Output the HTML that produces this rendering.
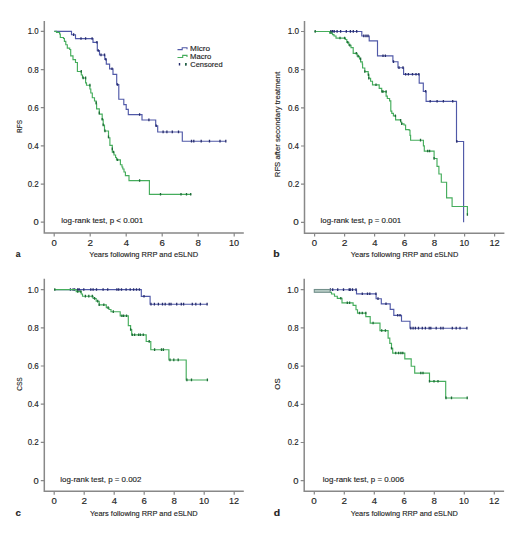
<!DOCTYPE html><html><head><meta charset="utf-8"><style>html,body{margin:0;padding:0;background:#fff;}svg{display:block;}text{font-family:"Liberation Sans",sans-serif;fill:#1e1e1e;}</style></head><body>
<svg width="520" height="539" viewBox="0 0 520 539">
<rect width="520" height="539" fill="#fff"/>
<path d="M44.3,21 V233.1 H243.8" fill="none" stroke="#888888" stroke-width="1.5"/>
<path d="M40.8,222.2 H44.4 M40.8,184.04 H44.4 M40.8,145.88 H44.4 M40.8,107.72 H44.4 M40.8,69.56 H44.4 M40.8,31.4 H44.4 M54.2,233.1 V236.5 M90.2,233.1 V236.5 M126.2,233.1 V236.5 M162.2,233.1 V236.5 M198.2,233.1 V236.5 M234.2,233.1 V236.5 " fill="none" stroke="#888888" stroke-width="1.2"/>
<path d="M54.3,31.4 H71.5 V34.7 H75.5 V38.6 H93 V42.3 H97.3 V50.6 H99.5 V55 H104.8 V59.3 H106.3 V64.1 H109.6 V68.9 H113 V74.4 H116.7 V84.6 H118.8 V99.2 H123.8 V104.6 H126.2 V109.3 H128.3 V114.6 H142 V120 H155.7 V125.8 H157.7 V132 H182.3 V141.2 H225.8" fill="none" stroke="#5059a8" stroke-width="1.15"/>
<path d="M73.6,33.3 v2.6 M81,37.2 v2.6 M85.6,37.2 v2.6 M92.1,37.2 v2.6 M96.9,40.9 v2.6 M98.3,49.2 v2.6 M101,53.6 v2.6 M104.5,53.6 v2.6 M105.8,57.9 v2.6 M112,67.5 v2.6 M117.5,83.2 v2.6 M139.6,113.2 v2.6 M148.9,118.6 v2.6 M156.2,124.4 v2.6 M163.1,130.6 v2.6 M166.9,130.6 v2.6 M172.3,130.6 v2.6 M178.5,130.6 v2.6 M191.5,139.8 v2.6 M193.8,139.8 v2.6 M201.2,139.8 v2.6 M209.5,139.8 v2.6 M220,139.8 v2.6 M225.8,139.8 v2.6 " fill="none" stroke="#262c6c" stroke-width="1.3"/>
<path d="M54.3,31.4 H56.5 V32.4 H59.6 V34 H60.3 V37.5 H63.5 V38.5 H64.4 V41.3 H65.8 V44.7 H67.3 V48.1 H69.7 V49.5 H70.7 V55.8 H73 V59.6 H75.5 V62.5 H77.4 V71.5 H81.3 V75 H82.5 V78 H85.6 V82.8 H86.5 V85.2 H89.9 V89 H90.8 V93 H92.3 V97.7 H94.5 V101 H96.2 V104 H96.6 V108.8 H99.3 V114.1 H102.2 V119.4 H103.2 V125 H104.5 V131 H108.5 V137.7 H109.9 V145.4 H112.3 V152.1 H114 V155 H115.6 V157.5 H116.5 V159.9 H120.4 V164.7 H122 V167 H122.8 V169 H124 V172 H125.4 V175.6 H129 V180.6 H149.4 V194.4 H191.3" fill="none" stroke="#45ad5c" stroke-width="1.15"/>
<path d="M81.25,70.1 v2.6 M83.2,76.6 v2.6 M85.6,76.6 v2.6 M89.9,83.8 v2.6 M96.2,101.6 v2.6 M99.3,111.6 v2.6 M102.2,118 v2.6 M103.2,123.6 v2.6 M105,129.6 v2.6 M108.5,135.6 v2.6 M112.3,147.6 v2.6 M113.5,150.7 v2.6 M117.5,158.5 v2.6 M139.6,179.2 v2.6 M160.5,193 v2.6 M181,193 v2.6 M186.5,193 v2.6 M190.7,193 v2.6 " fill="none" stroke="#1e6b38" stroke-width="1.3"/>
<path d="M304.5,21 V233.2 H504.4" fill="none" stroke="#888888" stroke-width="1.5"/>
<path d="M301,222.3 H304.6 M301,184.14 H304.6 M301,145.98 H304.6 M301,107.82 H304.6 M301,69.66 H304.6 M301,31.5 H304.6 M314.6,233.2 V236.6 M344.6,233.2 V236.6 M374.6,233.2 V236.6 M404.6,233.2 V236.6 M434.6,233.2 V236.6 M464.6,233.2 V236.6 M494.6,233.2 V236.6 " fill="none" stroke="#888888" stroke-width="1.2"/>
<path d="M314.6,31.5 H361.8 V36 H369.2 V40.9 H377.5 V55.9 H392.9 V61.7 H398 V67.7 H403.6 V74.4 H419.2 V83.1 H423.3 V91.4 H426.1 V101.3 H456.5 V141.5 H463.6 V222.2" fill="none" stroke="#5059a8" stroke-width="1.15"/>
<path d="M330.8,30.1 v2.6 M332.5,30.1 v2.6 M334.2,30.1 v2.6 M337.1,30.1 v2.6 M340.6,30.1 v2.6 M346.3,30.1 v2.6 M350.4,30.1 v2.6 M353.3,30.1 v2.6 M356.7,30.1 v2.6 M363.8,34.6 v2.6 M366,34.6 v2.6 M368,34.6 v2.6 M383,54.5 v2.6 M385.4,54.5 v2.6 M393.5,60.3 v2.6 M399,66.3 v2.6 M403,66.3 v2.6 M405.6,73 v2.6 M408.4,73 v2.6 M412.5,73 v2.6 M416,73 v2.6 M418.8,73 v2.6 M425.6,90 v2.6 M430.2,99.9 v2.6 M437.1,99.9 v2.6 M443.4,99.9 v2.6 M452.7,99.9 v2.6 M456.8,140.1 v2.6 " fill="none" stroke="#262c6c" stroke-width="1.3"/>
<path d="M314.6,31.5 H329.6 V33.1 H332.5 V34.6 H334 V36 H336 V38.1 H345.5 V39.5 H346.8 V42.4 H348.8 V45.2 H351 V47.6 H353.2 V53.4 H357.2 V56.2 H359.5 V59 H360.6 V61.8 H362.3 V64 H362.6 V68 H364.8 V71.6 H368.2 V74.8 H368.8 V78.2 H370.6 V81.2 H372.5 V84.9 H379.2 V88.3 H381.7 V91.6 H386.1 V96.1 H387.3 V98.5 H389.6 V100.8 H390.8 V111.1 H391.8 V113.4 H393.4 V115.8 H395.6 V119.8 H400.6 V122 H401.7 V123.8 H404 V125 H405.6 V129.6 H409.2 V130.2 H410 V135.4 H410.6 V140.2 H423.4 V145.8 H424.3 V151.1 H434.1 V158.5 H437 V166.3 H438.9 V174 H441.3 V182.2 H446.6 V197.8 H452.1 V206.5 H467.4 V214.6" fill="none" stroke="#45ad5c" stroke-width="1.15"/>
<path d="M315.2,30.1 v2.6 M331,31.1 v2.6 M340,36.7 v2.6 M344.6,36.7 v2.6 M347.7,41 v2.6 M349.8,43.8 v2.6 M356.3,52 v2.6 M358.2,54.8 v2.6 M360.6,57.6 v2.6 M364.8,70.2 v2.6 M368.5,73.4 v2.6 M368.8,76.8 v2.6 M376,83.5 v2.6 M383,90.2 v2.6 M382.1,90.2 v2.6 M386.1,90.2 v2.6 M395.4,114.4 v2.6 M400.6,119 v2.6 M401.7,122.4 v2.6 M420.5,138.8 v2.6 M427.7,149.7 v2.6 M429.6,149.7 v2.6 M434.1,157.1 v2.6 M467.4,213.2 v2.6 " fill="none" stroke="#1e6b38" stroke-width="1.3"/>
<path d="M44.3,278.8 V491.3 H243.8" fill="none" stroke="#888888" stroke-width="1.5"/>
<path d="M40.8,480.6 H44.4 M40.8,442.4 H44.4 M40.8,404.2 H44.4 M40.8,366 H44.4 M40.8,327.8 H44.4 M40.8,289.6 H44.4 M54.2,491.3 V494.7 M84.2,491.3 V494.7 M114.2,491.3 V494.7 M144.2,491.3 V494.7 M174.2,491.3 V494.7 M204.2,491.3 V494.7 M234.2,491.3 V494.7 " fill="none" stroke="#888888" stroke-width="1.2"/>
<path d="M54.2,289.6 H141.3 V296.4 H150.1 V304.2 H207.4" fill="none" stroke="#5059a8" stroke-width="1.15"/>
<path d="M70.4,288.2 v2.6 M73.1,288.2 v2.6 M74.6,288.2 v2.6 M77.7,288.2 v2.6 M79.2,288.2 v2.6 M83.8,288.2 v2.6 M90.8,288.2 v2.6 M93.1,288.2 v2.6 M96.5,288.2 v2.6 M103.1,288.2 v2.6 M107.7,288.2 v2.6 M116.9,288.2 v2.6 M118.7,288.2 v2.6 M121.5,288.2 v2.6 M126.1,288.2 v2.6 M130.2,288.2 v2.6 M133.6,288.2 v2.6 M136.5,288.2 v2.6 M139.4,288.2 v2.6 M144,295 v2.6 M151,302.8 v2.6 M154.4,302.8 v2.6 M158.4,302.8 v2.6 M162.5,302.8 v2.6 M165.2,302.8 v2.6 M169.2,302.8 v2.6 M171,302.8 v2.6 M176.7,302.8 v2.6 M181.3,302.8 v2.6 M183.6,302.8 v2.6 M192.3,302.8 v2.6 M195.8,302.8 v2.6 M200.4,302.8 v2.6 M207.1,302.8 v2.6 " fill="none" stroke="#262c6c" stroke-width="1.3"/>
<path d="M54.2,289.6 H76.2 V291.6 H81.2 V294 H82.5 V296.2 H93.1 V298.5 H96.2 V301.2 H99.2 V304.8 H106.3 V307.7 H109 V309.5 H111 V311.7 H120.2 V315.8 H128.3 V325.6 H130.6 V329.6 H131.7 V334.9 H146.2 V341.5 H150.8 V349.7 H168.9 V360 H186.2 V380 H207.4" fill="none" stroke="#45ad5c" stroke-width="1.15"/>
<path d="M54.8,288.2 v2.6 M77.7,290.2 v2.6 M80.8,290.2 v2.6 M85.4,294.8 v2.6 M88.8,294.8 v2.6 M92.3,294.8 v2.6 M94.6,297.1 v2.6 M97.7,299.8 v2.6 M99.2,303.4 v2.6 M103.8,303.4 v2.6 M108.1,306.3 v2.6 M113.3,310.3 v2.6 M121.9,314.4 v2.6 M123.6,314.4 v2.6 M126.5,314.4 v2.6 M130.6,328.2 v2.6 M132.3,333.5 v2.6 M134.6,333.5 v2.6 M138.6,333.5 v2.6 M140.4,333.5 v2.6 M143.3,333.5 v2.6 M149.2,340.1 v2.6 M154.6,348.3 v2.6 M161.5,348.3 v2.6 M163.4,348.3 v2.6 M170,358.6 v2.6 M173.8,358.6 v2.6 M178.2,358.6 v2.6 M186.9,378.6 v2.6 M191.5,378.6 v2.6 M207.4,378.6 v2.6 " fill="none" stroke="#1e6b38" stroke-width="1.3"/>
<path d="M304.2,278.8 V491.2 H504.1" fill="none" stroke="#888888" stroke-width="1.5"/>
<path d="M300.7,480.7 H304.3 M300.7,442.5 H304.3 M300.7,404.3 H304.3 M300.7,366.1 H304.3 M300.7,327.9 H304.3 M300.7,289.7 H304.3 M314.3,491.2 V494.6 M344.3,491.2 V494.6 M374.3,491.2 V494.6 M404.3,491.2 V494.6 M434.3,491.2 V494.6 M464.3,491.2 V494.6 M494.3,491.2 V494.6 " fill="none" stroke="#888888" stroke-width="1.2"/>
<path d="M330,289.7 H356.5 V293.9 H376.1 V298.7 H381.3 V303.9 H390.2 V309.3 H393.8 V315.4 H401.5 V321.2 H410 V328.2 H466.9" fill="none" stroke="#5059a8" stroke-width="1.15"/>
<path d="M330.4,288.3 v2.6 M332.7,288.3 v2.6 M337.7,288.3 v2.6 M343.5,288.3 v2.6 M349.2,288.3 v2.6 M350.2,288.3 v2.6 M352.5,288.3 v2.6 M356,288.3 v2.6 M362.3,292.5 v2.6 M367.5,292.5 v2.6 M369.8,292.5 v2.6 M375.9,292.5 v2.6 M378,297.3 v2.6 M386,302.5 v2.6 M397.7,314 v2.6 M400,314 v2.6 M410.8,326.8 v2.6 M413.1,326.8 v2.6 M415.4,326.8 v2.6 M418.5,326.8 v2.6 M422.3,326.8 v2.6 M425.4,326.8 v2.6 M429.2,326.8 v2.6 M430.8,326.8 v2.6 M436.2,326.8 v2.6 M440.8,326.8 v2.6 M443.1,326.8 v2.6 M452.3,326.8 v2.6 M456.2,326.8 v2.6 M460,326.8 v2.6 M466.9,326.8 v2.6 " fill="none" stroke="#262c6c" stroke-width="1.3"/>
<path d="M330,292.3 H331.5 V294 H334.5 V296.2 H337.3 V298.3 H342 V302.8 H353.1 V305.3 H356 V309.7 H357.5 V313.1 H365.8 V316.6 H370.2 V323.1 H380 V330.6 H388.1 V338.1 H389.8 V343.3 H391.5 V348.4 H392.7 V353.1 H404.8 V358.8 H411.2 V366.2 H414.7 V373.1 H429.5 V381.3 H445.7 V398 H467.2" fill="none" stroke="#45ad5c" stroke-width="1.15"/>
<path d="M340.8,296.9 v2.6 M347.3,301.4 v2.6 M349.6,301.4 v2.6 M359.5,311.7 v2.6 M362.3,311.7 v2.6 M365.8,311.7 v2.6 M373.1,321.7 v2.6 M381.7,329.2 v2.6 M385.4,329.2 v2.6 M391.5,347 v2.6 M395.7,351.7 v2.6 M398.6,351.7 v2.6 M400.9,351.7 v2.6 M402.8,351.7 v2.6 M420.8,371.7 v2.6 M423,371.7 v2.6 M429.5,379.9 v2.6 M434,379.9 v2.6 M438,379.9 v2.6 M446,396.6 v2.6 M451.5,396.6 v2.6 M467.2,396.6 v2.6 " fill="none" stroke="#1e6b38" stroke-width="1.3"/>
<rect x="314.3" y="289.5" width="15.8" height="2.8" fill="#b8ccc6" stroke="#73908b" stroke-width="1.1"/>
<path d="M177.5,49.6 H182.2 V47.7 H187 V49.2" fill="none" stroke="#5059a8" stroke-width="1.1"/>
<path d="M177.5,57.5 H182.7 V55.4 H187 V57" fill="none" stroke="#45ad5c" stroke-width="1.1"/>
<path d="M179.5,63.1 v2.3 M185.8,63.1 v2.3" fill="none" stroke="#262c6c" stroke-width="1.4"/>
<path d="M185.8,63.1 v2.3" fill="none" stroke="#1e6b38" stroke-width="1.4"/>
<g stroke="#1e1e1e" stroke-width="0.14">
<text x="33.49" y="225.15" font-size="8.30" textLength="5.20" lengthAdjust="spacingAndGlyphs">0</text>
<text x="27.69" y="186.99" font-size="8.30" textLength="11.04" lengthAdjust="spacingAndGlyphs">0.2</text>
<text x="27.69" y="148.83" font-size="8.30" textLength="11.07" lengthAdjust="spacingAndGlyphs">0.4</text>
<text x="27.69" y="110.67" font-size="8.30" textLength="11.11" lengthAdjust="spacingAndGlyphs">0.6</text>
<text x="27.69" y="72.51" font-size="8.30" textLength="11.15" lengthAdjust="spacingAndGlyphs">0.8</text>
<text x="27.69" y="34.35" font-size="8.30" textLength="10.89" lengthAdjust="spacingAndGlyphs">1.0</text>
<text x="51.51" y="245.80" font-size="8.30" textLength="5.31" lengthAdjust="spacingAndGlyphs">0</text>
<text x="87.51" y="245.80" font-size="8.30" textLength="5.50" lengthAdjust="spacingAndGlyphs">2</text>
<text x="123.76" y="245.80" font-size="8.30" textLength="5.27" lengthAdjust="spacingAndGlyphs">4</text>
<text x="159.52" y="245.80" font-size="8.30" textLength="5.38" lengthAdjust="spacingAndGlyphs">6</text>
<text x="195.52" y="245.80" font-size="8.30" textLength="5.40" lengthAdjust="spacingAndGlyphs">8</text>
<text x="229.03" y="245.80" font-size="8.30" textLength="10.14" lengthAdjust="spacingAndGlyphs">10</text>
<text x="293.39" y="225.25" font-size="8.30" textLength="5.49" lengthAdjust="spacingAndGlyphs">0</text>
<text x="287.93" y="187.09" font-size="8.30" textLength="11.23" lengthAdjust="spacingAndGlyphs">0.2</text>
<text x="287.93" y="148.93" font-size="8.30" textLength="11.06" lengthAdjust="spacingAndGlyphs">0.4</text>
<text x="287.93" y="110.77" font-size="8.30" textLength="11.14" lengthAdjust="spacingAndGlyphs">0.6</text>
<text x="287.93" y="72.61" font-size="8.30" textLength="11.14" lengthAdjust="spacingAndGlyphs">0.8</text>
<text x="287.65" y="34.45" font-size="8.30" textLength="11.36" lengthAdjust="spacingAndGlyphs">1.0</text>
<text x="311.85" y="245.90" font-size="8.30" textLength="5.30" lengthAdjust="spacingAndGlyphs">0</text>
<text x="341.74" y="245.90" font-size="8.30" textLength="5.69" lengthAdjust="spacingAndGlyphs">2</text>
<text x="372.28" y="245.90" font-size="8.30" textLength="5.26" lengthAdjust="spacingAndGlyphs">4</text>
<text x="401.76" y="245.90" font-size="8.30" textLength="5.66" lengthAdjust="spacingAndGlyphs">6</text>
<text x="431.66" y="245.90" font-size="8.30" textLength="5.45" lengthAdjust="spacingAndGlyphs">8</text>
<text x="459.51" y="245.90" font-size="8.30" textLength="9.70" lengthAdjust="spacingAndGlyphs">10</text>
<text x="489.47" y="245.90" font-size="8.30" textLength="10.25" lengthAdjust="spacingAndGlyphs">12</text>
<text x="33.49" y="483.55" font-size="8.30" textLength="5.20" lengthAdjust="spacingAndGlyphs">0</text>
<text x="27.69" y="445.35" font-size="8.30" textLength="11.04" lengthAdjust="spacingAndGlyphs">0.2</text>
<text x="27.69" y="407.15" font-size="8.30" textLength="11.07" lengthAdjust="spacingAndGlyphs">0.4</text>
<text x="27.69" y="368.95" font-size="8.30" textLength="11.11" lengthAdjust="spacingAndGlyphs">0.6</text>
<text x="27.69" y="330.75" font-size="8.30" textLength="11.15" lengthAdjust="spacingAndGlyphs">0.8</text>
<text x="27.69" y="292.55" font-size="8.30" textLength="10.89" lengthAdjust="spacingAndGlyphs">1.0</text>
<text x="51.51" y="503.90" font-size="8.30" textLength="5.31" lengthAdjust="spacingAndGlyphs">0</text>
<text x="81.51" y="503.90" font-size="8.30" textLength="5.50" lengthAdjust="spacingAndGlyphs">2</text>
<text x="111.76" y="503.90" font-size="8.30" textLength="5.27" lengthAdjust="spacingAndGlyphs">4</text>
<text x="141.52" y="503.90" font-size="8.30" textLength="5.38" lengthAdjust="spacingAndGlyphs">6</text>
<text x="171.52" y="503.90" font-size="8.30" textLength="5.40" lengthAdjust="spacingAndGlyphs">8</text>
<text x="199.03" y="503.90" font-size="8.30" textLength="10.14" lengthAdjust="spacingAndGlyphs">10</text>
<text x="229.04" y="503.90" font-size="8.30" textLength="10.10" lengthAdjust="spacingAndGlyphs">12</text>
<text x="293.34" y="483.65" font-size="8.30" textLength="5.23" lengthAdjust="spacingAndGlyphs">0</text>
<text x="287.81" y="445.45" font-size="8.30" textLength="10.76" lengthAdjust="spacingAndGlyphs">0.2</text>
<text x="287.81" y="407.25" font-size="8.30" textLength="10.80" lengthAdjust="spacingAndGlyphs">0.4</text>
<text x="287.81" y="369.05" font-size="8.30" textLength="10.85" lengthAdjust="spacingAndGlyphs">0.6</text>
<text x="287.81" y="330.85" font-size="8.30" textLength="10.86" lengthAdjust="spacingAndGlyphs">0.8</text>
<text x="287.20" y="292.65" font-size="8.30" textLength="11.35" lengthAdjust="spacingAndGlyphs">1.0</text>
<text x="311.39" y="503.80" font-size="8.30" textLength="5.49" lengthAdjust="spacingAndGlyphs">0</text>
<text x="341.64" y="503.80" font-size="8.30" textLength="5.50" lengthAdjust="spacingAndGlyphs">2</text>
<text x="371.75" y="503.80" font-size="8.30" textLength="5.28" lengthAdjust="spacingAndGlyphs">4</text>
<text x="401.64" y="503.80" font-size="8.30" textLength="5.37" lengthAdjust="spacingAndGlyphs">6</text>
<text x="431.61" y="503.80" font-size="8.30" textLength="5.41" lengthAdjust="spacingAndGlyphs">8</text>
<text x="459.12" y="503.80" font-size="8.30" textLength="9.70" lengthAdjust="spacingAndGlyphs">10</text>
<text x="489.11" y="503.80" font-size="8.30" textLength="10.28" lengthAdjust="spacingAndGlyphs">12</text>
<text x="89.33" y="257.20" font-size="8.00" textLength="108.78" lengthAdjust="spacingAndGlyphs">Years following RRP and eSLND</text>
<text x="350.86" y="257.20" font-size="8.00" textLength="107.41" lengthAdjust="spacingAndGlyphs">Years following RRP and eSLND</text>
<text x="90.09" y="515.75" font-size="8.00" textLength="107.61" lengthAdjust="spacingAndGlyphs">Years following RRP and eSLND</text>
<text x="350.78" y="515.75" font-size="8.00" textLength="107.04" lengthAdjust="spacingAndGlyphs">Years following RRP and eSLND</text>
<text x="61.32" y="222.70" font-size="8.00" textLength="81.91" lengthAdjust="spacingAndGlyphs">log-rank test, p &lt; 0.001</text>
<text x="320.54" y="223.20" font-size="8.00" textLength="80.73" lengthAdjust="spacingAndGlyphs">log-rank test, p = 0.001</text>
<text x="60.32" y="481.80" font-size="8.00" textLength="81.08" lengthAdjust="spacingAndGlyphs">log-rank test, p = 0.002</text>
<text x="322.87" y="481.80" font-size="8.00" textLength="81.21" lengthAdjust="spacingAndGlyphs">log-rank test, p = 0.006</text>
<text transform="translate(21.90,132.99) rotate(-90)" font-size="7.30" textLength="13.08" lengthAdjust="spacingAndGlyphs">RFS</text>
<text transform="translate(279.79,177.19) rotate(-90)" font-size="7.50" textLength="105.49" lengthAdjust="spacingAndGlyphs">RFS after secondary treatment</text>
<text transform="translate(21.63,390.85) rotate(-90)" font-size="7.30" textLength="13.59" lengthAdjust="spacingAndGlyphs">CSS</text>
<text transform="translate(279.63,389.64) rotate(-90)" font-size="7.30" textLength="11.23" lengthAdjust="spacingAndGlyphs">OS</text>
<text x="15.65" y="256.90" font-size="9.00" font-weight="bold" textLength="4.74" lengthAdjust="spacingAndGlyphs">a</text>
<text x="273.37" y="257.10" font-size="9.00" font-weight="bold" textLength="6.39" lengthAdjust="spacingAndGlyphs">b</text>
<text x="15.50" y="516.00" font-size="9.00" font-weight="bold" textLength="5.45" lengthAdjust="spacingAndGlyphs">c</text>
<text x="273.67" y="515.60" font-size="9.00" font-weight="bold" textLength="6.40" lengthAdjust="spacingAndGlyphs">d</text>
<text x="190.06" y="51.30" font-size="7.40" textLength="20.09" lengthAdjust="spacingAndGlyphs">Micro</text>
<text x="189.99" y="58.50" font-size="7.40" textLength="21.35" lengthAdjust="spacingAndGlyphs">Macro</text>
<text x="190.25" y="66.60" font-size="7.40" textLength="32.38" lengthAdjust="spacingAndGlyphs">Censored</text>
</g>
</svg></body></html>
